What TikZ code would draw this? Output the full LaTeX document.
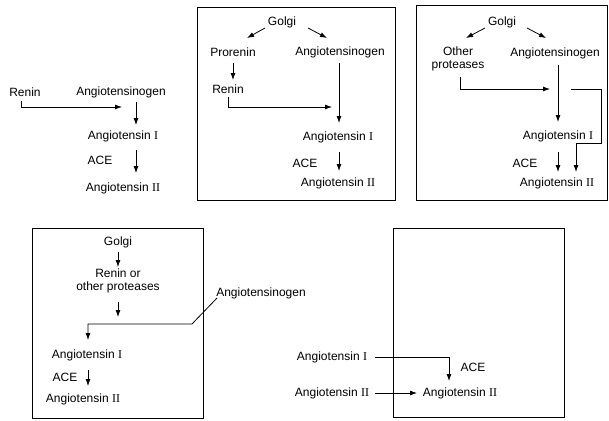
\documentclass[tikz,border=0pt]{standalone}
\usepackage{fontspec}
\setmainfont{Liberation Sans}
\newfontfamily\numfont{Liberation Serif}
\usetikzlibrary{arrows.meta}
\newcommand{\rmnum}[1]{{\numfont #1}}
\tikzset{
  lbl/.style={font=\fontsize{12}{13}\selectfont, inner sep=0pt, align=center},
  conn/.style={line width=0.8pt, -{Latex[length=7pt,width=5pt]}},
  panel/.style={line width=0.8pt}
}
\begin{document}
\begin{tikzpicture}[x=1pt, y=-1pt]
  \useasboundingbox (0,0) rectangle (609,420);

  \begin{scope}
    \node[lbl] (reninA) at (25,92) {Renin};
    \node[lbl] (agnA) at (121,92) {Angiotensinogen};
    \node[lbl] (atiA) at (123,136) {Angiotensin \rmnum{I}};
    \node[lbl] (aceA) at (100,160) {ACE};
    \node[lbl] (atiiA) at (123,188) {Angiotensin \rmnum{II}};

    \coordinate (rA1) at (21,101);
    \coordinate (rA2) at (122,107);
    \coordinate (gA1) at (136,102);
    \coordinate (gA2) at (136,125);
    \coordinate (cA1) at (136,150);
    \coordinate (cA2) at (136,173);

    \draw[conn] (rA1) |- (rA2);
    \draw[conn] (gA1) -- (gA2);
    \draw[conn] (cA1) -- (cA2);
  \end{scope}

  \begin{scope}
    \draw[panel] (197,7) rectangle (395,200);

    \node[lbl] (golgiB) at (282,22) {Golgi};
    \node[lbl] (prorB) at (233,52) {Prorenin};
    \node[lbl] (agnB) at (340,52) {Angiotensinogen};
    \node[lbl] (reninB) at (228,89) {Renin};
    \node[lbl] (atiB) at (338,137) {Angiotensin \rmnum{I}};
    \node[lbl] (aceB) at (305,163) {ACE};
    \node[lbl] (atiiB) at (338,183) {Angiotensin \rmnum{II}};

    \coordinate (gB1) at (265,28);
    \coordinate (gB2) at (247,38);
    \coordinate (gB3) at (308,28);
    \coordinate (gB4) at (327,38);
    \coordinate (pB1) at (233,63);
    \coordinate (pB2) at (233,80);
    \coordinate (rB1) at (228,97);
    \coordinate (rB2) at (332,107);
    \coordinate (aB1) at (339,63);
    \coordinate (aB2) at (339,123);
    \coordinate (cB1) at (339,152);
    \coordinate (cB2) at (339,171);

    \draw[conn] (gB1) -- (gB2);
    \draw[conn] (gB3) -- (gB4);
    \draw[conn] (pB1) -- (pB2);
    \draw[conn] (rB1) |- (rB2);
    \draw[conn] (aB1) -- (aB2);
    \draw[conn] (cB1) -- (cB2);
  \end{scope}

  \begin{scope}
    \draw[panel] (416,5) rectangle (607,200);

    \node[lbl] (golgiC) at (502,22) {Golgi};
    \node[lbl] (protC) at (458,59) {Other\\proteases};
    \node[lbl] (agnC) at (555,53) {Angiotensinogen};
    \node[lbl] (atiC) at (558,136) {Angiotensin \rmnum{I}};
    \node[lbl] (aceC) at (525,163) {ACE};
    \node[lbl] (atiiC) at (557,183) {Angiotensin \rmnum{II}};

    \coordinate (gC1) at (485,28);
    \coordinate (gC2) at (466,38);
    \coordinate (gC3) at (527,28);
    \coordinate (gC4) at (546,38);
    \coordinate (pC1) at (460,77);
    \coordinate (pC2) at (550,89);
    \coordinate (aC1) at (558,65);
    \coordinate (aC2) at (558,122);
    \coordinate (bC1) at (571,89);
    \coordinate (bC2) at (601,143);
    \coordinate (bC3) at (576,172);
    \coordinate (cC1) at (558,152);
    \coordinate (cC2) at (558,172);

    \draw[conn] (gC1) -- (gC2);
    \draw[conn] (gC3) -- (gC4);
    \draw[conn] (pC1) |- (pC2);
    \draw[conn] (aC1) -- (aC2);
    \draw[conn] (bC1) -| (bC2) -| (bC3);
    \draw[conn] (cC1) -- (cC2);
  \end{scope}

  \begin{scope}
    \draw[panel] (32,228) rectangle (203,418);

    \node[lbl] (golgiD) at (118,242) {Golgi};
    \node[lbl] (protD) at (118,281) {Renin or\\other proteases};
    \node[lbl] (agnD) at (261,293) {Angiotensinogen};
    \node[lbl] (atiD) at (87,355) {Angiotensin \rmnum{I}};
    \node[lbl] (aceD) at (65,377) {ACE};
    \node[lbl] (atiiD) at (83,399) {Angiotensin \rmnum{II}};

    \coordinate (gD1) at (118,252);
    \coordinate (gD2) at (118,267);
    \coordinate (pD1) at (118,302);
    \coordinate (pD2) at (118,317);
    \coordinate (kD1) at (217,298);
    \coordinate (kD2) at (192,324);
    \coordinate (kD3) at (88,340);
    \coordinate (cD1) at (88,370);
    \coordinate (cD2) at (88,386);

    \draw[conn] (gD1) -- (gD2);
    \draw[conn] (pD1) -- (pD2);
    \draw[conn] (kD1) -- (kD2) -| (kD3);
    \draw[conn] (cD1) -- (cD2);
  \end{scope}

  \begin{scope}
    \draw[panel] (393,228) rectangle (564,417);

    \node[lbl] (atiE) at (332,357) {Angiotensin \rmnum{I}};
    \node[lbl] (aceE) at (473,367) {ACE};
    \node[lbl] (atiiE) at (332,393) {Angiotensin \rmnum{II}};
    \node[lbl] (outE) at (460,393) {Angiotensin \rmnum{II}};

    \coordinate (iE1) at (375,357);
    \coordinate (iE2) at (449,381);
    \coordinate (iiE1) at (375,393);
    \coordinate (iiE2) at (417,393);

    \draw[conn] (iE1) -| (iE2);
    \draw[conn] (iiE1) -- (iiE2);
  \end{scope}
\end{tikzpicture}
\end{document}
